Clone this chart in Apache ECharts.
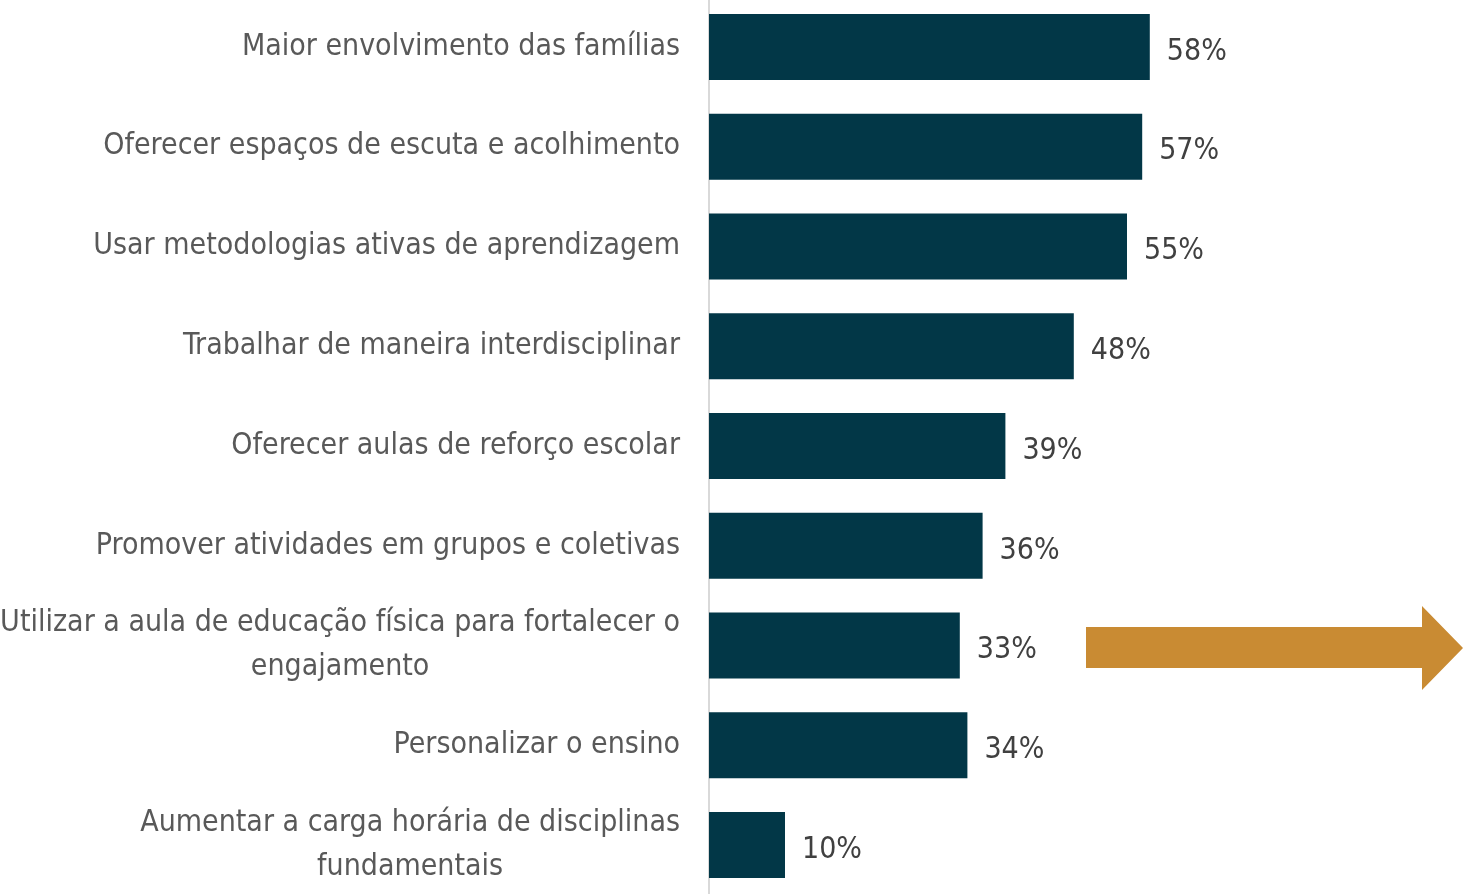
<!DOCTYPE html>
<html>
<head>
<meta charset="utf-8">
<script src="https://cdn.jsdelivr.net/npm/echarts@6/dist/echarts.min.js"></script>
<style>
  html, body { margin: 0; padding: 0; background: #fff; }
  #main { width: 1466px; height: 894px; }
</style>
</head>
<body>
<div id="main"></div>
<script>
var categories = [
    'Maior envolvimento das famílias',
    'Oferecer espaços de escuta e acolhimento',
    'Usar metodologias ativas de aprendizagem',
    'Trabalhar de maneira interdisciplinar',
    'Oferecer aulas de reforço escolar',
    'Promover atividades em grupos e coletivas',
    'Utilizar a aula de educação física para fortalecer o\nengajamento',
    'Personalizar o ensino',
    'Aumentar a carga horária de disciplinas\nfundamentais'
];
var values = [58, 57, 55, 48, 39, 36, 33, 34, 10];

var FONT = '"DejaVu Sans Condensed", "Liberation Sans Narrow", "Roboto", sans-serif';

var chart = echarts.init(document.getElementById('main'));

var option = {
    backgroundColor: '#ffffff',
    animation: false,
    grid: {
        left: 709,
        top: -3,
        width: 760,
        height: 898,
        containLabel: false,
        outerBoundsMode: 'none'
    },
    xAxis: {
        type: 'value',
        min: 0,
        max: 100,
        show: false
    },
    yAxis: {
        type: 'category',
        data: categories,
        inverse: true,
        axisLine: { show: true, lineStyle: { color: '#d9d9d9', width: 2 } },
        axisTick: { show: false },
        axisLabel: {
            margin: 29,
            formatter: function (v) {
                // centre each line inside the right-aligned block
                return v.split('\n').map(function (l) { return '{c|' + l + '}'; }).join('\n');
            },
            rich: {
                c: {
                    align: 'center',
                    fontFamily: FONT,
                    fontSize: 30,
                    color: '#595959',
                    lineHeight: 44
                }
            }
        }
    },
    series: [{
        type: 'bar',
        data: values,
        barWidth: 66,
        itemStyle: { color: '#023747' },
        label: {
            show: true,
            position: 'right',
            distance: 17,
            formatter: '{c}%',
            fontFamily: FONT,
            fontSize: 30,
            color: '#404040',
            offset: [0, 5]
        }
    }],
    graphic: [{
        type: 'polygon',
        shape: {
            points: [[1086, 627], [1422, 627], [1422, 606], [1463, 648],
                     [1422, 690], [1422, 668], [1086, 668]]
        },
        style: { fill: '#C98B33' }
    }]
};

chart.setOption(option);
</script>
</body>
</html>
